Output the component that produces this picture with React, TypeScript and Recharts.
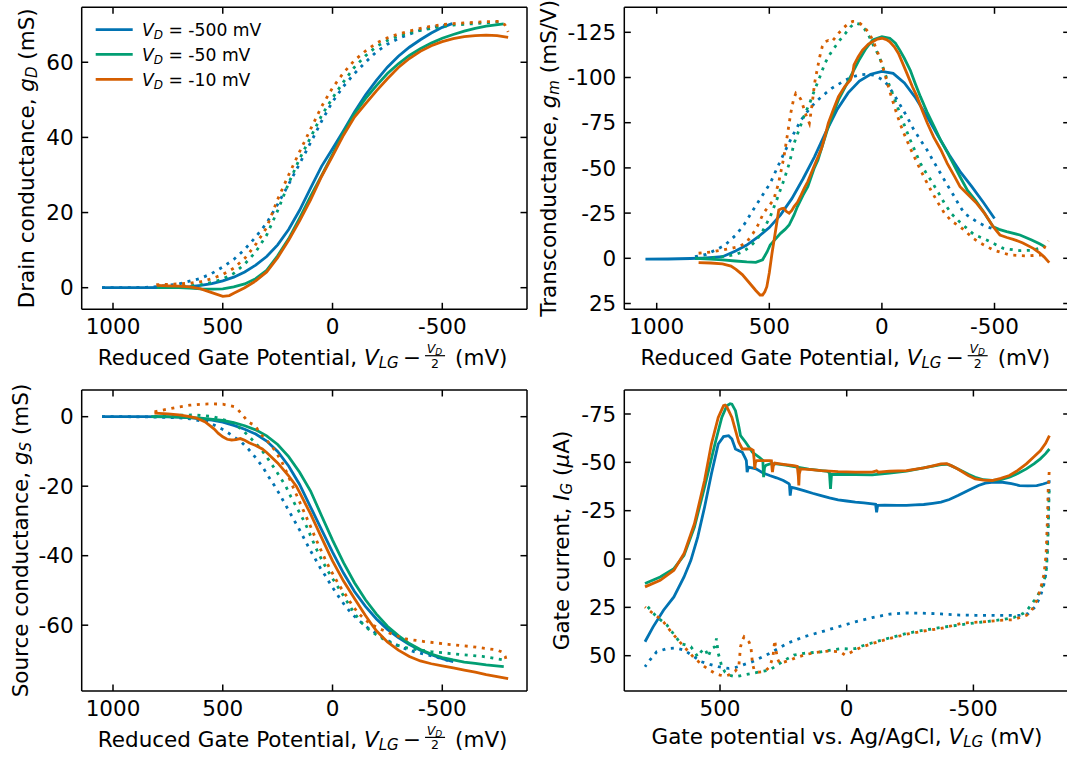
import React from 'react';
import { LineChart, Line, XAxis, YAxis, Legend, Label } from 'recharts';

type P = [number, number][];

const FONT = '"DejaVu Sans", "Liberation Sans", sans-serif';
const BLUE = '#0173B2';
const GREEN = '#029E73';
const ORANGE = '#D55E00';
const COLORS = [BLUE, GREEN, ORANGE];
const LEGEND_VALUES = ['-500', '-50', '-10'];

const X_TICKS_REDUCED = [1000, 500, 0, -500];
const X_TICKS_GATE = [500, 0, -500];
const Y_TICKS_GD = [0, 20, 40, 60];
const Y_TICKS_GM = [25, 0, -25, -50, -75, -100, -125];
const Y_TICKS_GS = [0, -20, -40, -60];
const Y_TICKS_IG = [50, 25, 0, -25, -50, -75];

// ---------- Drain conductance g_D (mS) ----------
const gD_blue_fwd: P = [[1050,0],[950,0],[850,0],[750,0.05],[700,0.1],[650,0.3],[600,0.6],[550,1.1],[500,1.8],[450,2.8],[400,4.2],[350,6],[300,8.3],[250,11.4],[200,15.5],[150,20.6],[100,26.5],[50,32.3],[0,37],[-50,41.8],[-100,46.8],[-150,51.3],[-200,55.2],[-250,58.7],[-300,61.6],[-350,64],[-400,66],[-450,67.8],[-500,69.3],[-545,70.3]];
const gD_blue_rev: P = [[1050,0],[950,0],[850,0.1],[800,0.3],[700,1.0],[600,2.5],[550,3.8],[500,5.5],[450,7.5],[400,10.2],[350,13.5],[300,17.2],[250,22.2],[200,27.5],[150,33],[100,38.6],[50,44.3],[0,49.5],[-50,53.6],[-100,57],[-150,60],[-200,62.8],[-250,64.8],[-300,66.3],[-350,67.5],[-400,68.5],[-450,69.2],[-500,69.8],[-545,70.2]];
const gD_green_fwd: P = [[800,0],[700,0],[650,-0.1],[600,-0.3],[550,-0.4],[500,-0.3],[450,0.2],[400,1.0],[350,2.4],[300,4.6],[250,8.5],[200,13],[150,18.5],[100,24.3],[50,29.8],[0,35.5],[-50,41.3],[-100,46.3],[-150,50.3],[-200,53.8],[-250,57],[-300,59.6],[-350,61.8],[-400,63.6],[-450,65.1],[-500,66.4],[-550,67.4],[-600,68.3],[-650,69],[-700,69.6],[-780,70.2]];
const gD_green_rev: P = [[800,0],[700,0.2],[600,0.8],[550,1.4],[500,2.3],[450,3.8],[400,6.3],[350,9.5],[300,14],[250,20.5],[200,27.8],[150,34.3],[100,40],[50,45.8],[0,50.5],[-50,54.8],[-100,58.7],[-150,61.7],[-200,64.2],[-250,65.8],[-300,67],[-350,67.8],[-400,68.5],[-450,69],[-500,69.5],[-550,69.9],[-600,70.1],[-700,70.5],[-780,70.8]];
const gD_orange_fwd: P = [[800,0.6],[750,0.5],[700,0.4],[650,0.2],[600,-0.3],[550,-1.3],[500,-2.3],[470,-2.1],[450,-1.5],[400,0],[350,1.8],[300,4.2],[250,8],[200,12.6],[150,17.8],[100,23.4],[50,29.6],[0,35],[-50,40.6],[-100,45.4],[-150,48.9],[-200,52.4],[-250,55.6],[-300,58.6],[-350,61],[-400,62.9],[-450,64.4],[-500,65.5],[-550,66.3],[-600,66.8],[-650,67.1],[-700,67.2],[-750,67.1],[-800,66.6]];
const gD_orange_rev: P = [[803,0.8],[750,0.9],[700,1.0],[650,1.2],[600,1.6],[550,2.4],[500,3.5],[450,5.2],[400,7.8],[350,11.5],[300,16],[250,23.5],[200,30],[150,36.2],[100,42.2],[50,48.2],[0,53.2],[-50,57.2],[-100,60.5],[-150,63],[-200,65.1],[-250,66.5],[-300,67.5],[-350,68.3],[-400,69],[-450,69.6],[-500,70],[-550,70.3],[-600,70.5],[-700,70.8],[-760,70.9],[-785,70],[-800,68.1]];

// ---------- Transconductance g_m (mS/V) ----------
const gm_blue_fwd: P = [[1050,0.5],[950,0.4],[850,0.1],[780,-0.2],[708,-0.9],[650,-4],[600,-7.3],[550,-11.8],[500,-17],[450,-24],[400,-33],[350,-44],[300,-56],[250,-69.5],[200,-82],[150,-91.5],[100,-98],[50,-101.8],[0,-103.4],[-50,-102.3],[-100,-97],[-150,-88.7],[-200,-78.5],[-250,-67.5],[-300,-57],[-350,-47.5],[-400,-39.5],[-450,-31],[-500,-22]];
const gm_blue_rev: P = [[830,-0.9],[780,-2.2],[739,-4.6],[700,-7],[648,-12.9],[610,-19],[572,-26.7],[535,-34],[496,-41.5],[465,-50],[435,-58],[400,-67],[359,-76.5],[320,-83],[284,-87.6],[250,-91.3],[223,-94],[190,-96.5],[162,-98.6],[130,-100.3],[102,-101.4],[70,-101.8],[41,-101.4],[20,-100.3],[-5,-98.6],[-25,-96],[-50,-91.3],[-80,-85],[-111,-78.4],[-140,-71.5],[-171,-65.4],[-200,-60],[-232,-53],[-260,-47],[-293,-40],[-320,-34.5],[-345,-29],[-366,-24.9],[-399,-22.1],[-428,-19.7],[-465,-17.5],[-490,-16.5]];
const gm_green_fwd: P = [[830,0],[760,0.5],[708,0.9],[650,1.5],[600,2],[560,2.2],[530,0.8],[510,-3.5],[496,-7.4],[470,-11],[450,-13.8],[430,-16],[412,-18.4],[390,-24],[375,-28.6],[350,-35],[329,-39.6],[300,-50],[284,-54.4],[260,-64],[238,-72.8],[215,-80.5],[193,-87.6],[160,-95.5],[132,-102.3],[100,-110],[71,-116],[41,-120.8],[0,-122.6],[-35,-121.7],[-60,-119],[-80,-115],[-100,-110.5],[-126,-104],[-150,-96],[-171,-89.4],[-200,-81],[-232,-72.8],[-260,-65.5],[-293,-58],[-320,-51.5],[-347,-45.1],[-380,-37.5],[-414,-32.3],[-450,-26],[-475,-21.2],[-494,-17.5],[-520,-16],[-554,-14.8],[-613,-12.9],[-665,-10.1],[-700,-8],[-724,-6.4]];
const gm_green_rev: P = [[830,0],[760,-0.3],[708,-0.9],[650,-2],[617,-3.7],[590,-6],[557,-10],[530,-15],[496,-23],[465,-33],[435,-43.3],[410,-53],[390,-63.6],[365,-72],[344,-79.3],[320,-86],[299,-93],[275,-100.5],[253,-107.9],[230,-113],[208,-117],[185,-121],[162,-124.4],[140,-128],[120,-130],[100,-129.5],[78,-127],[56,-122.6],[35,-117],[11,-111.5],[-10,-103.5],[-35,-95],[-58,-87.5],[-80,-80.2],[-103,-72.5],[-126,-65.4],[-150,-58.5],[-171,-52.5],[-195,-47.5],[-217,-43.3],[-250,-36.5],[-278,-30.4],[-310,-24.5],[-347,-19.9],[-406,-13.4],[-465,-10.1],[-539,-5.5],[-613,-4.2],[-660,-4.4],[-717,-6]];
const gm_orange_fwd: P = [[814,2.4],[760,2.6],[708,3.1],[670,4.3],[648,6.1],[620,9],[587,13.8],[560,17.8],[541,20.3],[530,20.3],[520,18.5],[511,15.7],[500,8],[488,-2.8],[470,-17],[458,-26.7],[445,-27.5],[435,-27.7],[425,-26],[412,-24.9],[400,-26.5],[390,-28.6],[375,-31],[359,-35],[344,-39],[329,-42.4],[314,-47],[299,-51.6],[284,-56],[268,-60.8],[253,-67.5],[238,-74.7],[215,-82.5],[193,-89.4],[165,-95],[140,-98.6],[130,-102],[124,-107],[105,-111.5],[86,-115.2],[60,-118.5],[41,-119.8],[20,-121.3],[0,-121.7],[-20,-121],[-35,-119.8],[-55,-117],[-73,-113.4],[-90,-108.5],[-111,-102.3],[-135,-95],[-156,-89.4],[-180,-81.5],[-202,-74.7],[-230,-67],[-262,-59.9],[-290,-52.5],[-323,-45.2],[-347,-39.6],[-384,-35],[-421,-30.4],[-455,-25],[-494,-17.5],[-524,-12.9],[-555,-11.5],[-583,-10.5],[-626,-8.5],[-672,-5.5],[-700,-3],[-720,-0.8],[-743,2.4]];
const gm_orange_rev: P = [[814,-2.8],[760,-3.5],[708,-4.6],[660,-5.8],[632,-6.5],[600,-9],[572,-13.8],[550,-18.5],[526,-24.9],[505,-28.5],[481,-32.3],[460,-41],[445,-50],[435,-56.2],[420,-68],[405,-80.2],[392,-88],[382,-91.3],[370,-90],[359,-87.6],[347,-83],[337,-79.3],[322,-74.7],[310,-85],[299,-96.8],[288,-104],[276,-111.5],[265,-117],[253,-119.8],[238,-120.5],[223,-119.8],[208,-122],[193,-124.4],[170,-127.5],[147,-130],[130,-131],[117,-131],[98,-130],[79,-128],[60,-125],[41,-120.8],[22,-115],[3,-108.8],[-15,-101],[-35,-92.2],[-58,-83],[-80,-74.7],[-103,-67.5],[-126,-60.8],[-150,-54.5],[-171,-48.9],[-195,-43],[-217,-37.8],[-250,-30.5],[-278,-24.9],[-310,-20.5],[-347,-17.5],[-406,-11],[-435,-8.6],[-494,-4.6],[-569,-1.8],[-643,-1.3],[-702,-1.8],[-739,-9.7]];

// ---------- Source conductance g_S (mS) ----------
const gS_blue_fwd: P = [[1050,0],[950,0],[850,0],[750,-0.05],[700,-0.1],[650,-0.3],[600,-0.6],[550,-1],[500,-1.6],[450,-2.5],[400,-3.6],[350,-5],[300,-7],[250,-10],[200,-14.2],[150,-19.5],[100,-26],[50,-32.5],[0,-39],[-50,-45],[-100,-50.3],[-150,-54.6],[-200,-58.2],[-250,-61.2],[-300,-63.6],[-350,-65.6],[-400,-67.2],[-450,-68.5],[-500,-69.6],[-550,-70.5]];
const gS_blue_rev: P = [[1050,0],[950,0],[850,-0.05],[750,-0.2],[700,-0.3],[650,-0.6],[600,-1.2],[575,-1.4],[540,-2.4],[496,-3.8],[460,-5.3],[417,-7.2],[385,-9.2],[354,-11.5],[320,-14.3],[291,-17.3],[265,-19.8],[244,-22],[220,-24.7],[197,-27.3],[175,-29.8],[150,-32.6],[125,-35.6],[102,-38.4],[80,-40.8],[55,-43.6],[30,-46],[8,-48.4],[-25,-51.5],[-55,-54.2],[-85,-56.5],[-118,-58.5],[-155,-60.5],[-197,-62.3],[-235,-63.8],[-275,-65.2],[-320,-66.5],[-370,-67.6],[-420,-68.4],[-464,-69],[-505,-69.8],[-543,-70.5]];
const gS_green_fwd: P = [[826,0],[750,0],[700,-0.1],[600,-0.4],[500,-1.1],[450,-1.7],[400,-2.6],[350,-3.8],[300,-5.5],[250,-8],[200,-11.5],[150,-16],[100,-21.4],[50,-28.5],[0,-35.5],[-50,-42],[-100,-47.8],[-150,-52.7],[-200,-56.8],[-250,-60.3],[-300,-63],[-350,-65.3],[-400,-67],[-450,-68.3],[-500,-69.3],[-550,-70],[-600,-70.6],[-650,-71],[-700,-71.4],[-780,-71.9]];
const gS_green_rev: P = [[811,0],[750,0.3],[700,0.4],[637,0.5],[590,0.3],[543,0],[500,-0.8],[449,-1.9],[420,-3.4],[386,-5.3],[350,-7.7],[323,-9.6],[290,-12.5],[260,-15.3],[235,-17.8],[212,-20.1],[190,-23],[165,-25.9],[140,-28.8],[118,-31.6],[95,-35],[71,-38.4],[48,-41.3],[24,-44.1],[0,-46.6],[-24,-48.9],[-48,-51.3],[-71,-53.7],[-100,-56.6],[-134,-59.4],[-170,-61.5],[-212,-63.3],[-250,-64.6],[-291,-65.7],[-330,-66.4],[-370,-66.9],[-449,-67.6],[-559,-68.3],[-684,-69],[-779,-70]];
const gS_orange_fwd: P = [[811,1],[750,0.8],[700,0.5],[650,0],[620,-0.4],[580,-1.5],[560,-2.5],[540,-3.5],[520,-4.8],[500,-5.8],[480,-6.5],[460,-6.7],[440,-6.6],[420,-6.3],[400,-6.8],[380,-7.5],[350,-8.3],[320,-9.3],[300,-10.3],[250,-13.3],[200,-17],[165,-20],[150,-21.8],[100,-28],[50,-34.8],[0,-41.5],[-50,-47.3],[-100,-52.3],[-150,-57.2],[-181,-60],[-200,-61.6],[-250,-64.8],[-300,-67.2],[-350,-69],[-400,-70.3],[-450,-71.1],[-500,-71.7],[-550,-72.3],[-600,-72.9],[-650,-73.5],[-700,-74.2],[-750,-74.8],[-800,-75.4]];
const gS_orange_rev: P = [[811,1.4],[750,2.2],[700,2.8],[650,3.3],[600,3.6],[550,3.7],[500,3.6],[470,3.2],[449,2.9],[430,2],[417,1],[400,-0.3],[386,-1.4],[370,-2],[354,-2.4],[340,-3.8],[323,-5.3],[300,-6.8],[275,-8.6],[250,-11],[228,-13.4],[200,-17.3],[181,-20.1],[150,-24.5],[134,-26.8],[100,-31.6],[87,-33.6],[60,-37.4],[39,-40.3],[10,-44],[-8,-46],[-30,-48.5],[-55,-50.8],[-85,-53.8],[-118,-56.6],[-150,-58.5],[-181,-59.9],[-220,-61.2],[-260,-62.3],[-300,-63.2],[-338,-64],[-417,-64.7],[-527,-65.5],[-637,-66.2],[-748,-67.1],[-775,-67.8],[-787,-69],[-795,-71]];

// ---------- Gate current I_G (uA) vs V_LG ----------
const iG_blue_fwd: P = [[796,42.8],[764,35.1],[723,26.5],[682,19.6],[642,9.3],[615,0.7],[588,-11.3],[561,-26.8],[534,-44],[507,-59.5],[486,-63.3],[466,-63.8],[453,-62.1],[439,-56.9],[425,-56],[412,-55.2],[400,-52],[396,-50.9],[393,-44.9],[388,-47.5],[370,-47],[358,-46.6],[330,-44.5],[304,-43.2],[277,-42],[250,-40.6],[229,-39],[226,-38.5],[223,-32.8],[219,-37.1],[200,-36.5],[169,-35.4],[135,-34],[101,-32.8],[68,-31.6],[34,-30.6],[0,-30],[-34,-29.4],[-68,-29],[-101,-28.5],[-114,-28.3],[-118,-24.2],[-122,-27.7],[-150,-27.8],[-200,-27.7],[-236,-27.7],[-270,-28],[-304,-28.2],[-340,-28.8],[-372,-29.4],[-405,-30.8],[-439,-32.8],[-465,-34.5],[-493,-36.3],[-520,-38],[-547,-39.2],[-580,-39.8],[-615,-39.7],[-650,-39],[-682,-38],[-715,-37.8],[-750,-38],[-775,-38.8],[-797,-39.7]];
const iG_blue_rev: P = [[-799,-40.7],[-796,-23.5],[-792,-6.2],[-786,7.6],[-776,14.5],[-763,19.7],[-743,24.8],[-717,28.2],[-684,29.1],[-642,29.2],[-579,29.1],[-507,29.1],[-447,29],[-372,28.4],[-300,28],[-236,27.9],[-169,28.5],[-101,30.3],[-34,32.5],[34,35.1],[101,37.7],[169,40.2],[236,43.7],[304,48.8],[372,53.1],[439,56.1],[466,56.6],[507,55.7],[540,54.5],[574,53.1],[608,50],[642,47.1],[675,46],[709,46.3],[750,48],[777,52.3],[796,55.7]];
const iG_green_fwd: P = [[796,12.7],[736,9.3],[682,5],[642,-1.9],[601,-16.5],[561,-37.1],[520,-59.5],[493,-73.2],[473,-79.3],[460,-80.3],[453,-80.1],[439,-76.7],[425,-68],[419,-63.8],[399,-60.4],[372,-55.2],[345,-52.6],[331,-51],[328,-42.3],[324,-47.5],[318,-48.5],[300,-49.3],[277,-49.2],[240,-48.5],[196,-47.5],[150,-46.5],[100,-45.7],[75,-45.3],[68,-44.5],[64,-36.3],[60,-43.7],[54,-43.7],[0,-43.7],[-34,-43.7],[-101,-43.5],[-169,-44.4],[-236,-45.4],[-304,-47.1],[-340,-48],[-372,-48.8],[-395,-49],[-412,-48.3],[-435,-46.8],[-453,-45.7],[-480,-43.8],[-507,-42.3],[-540,-41],[-574,-40.6],[-608,-41],[-642,-42.3],[-675,-44.2],[-709,-46.6],[-740,-49.3],[-764,-51.8],[-785,-54.5],[-800,-56.9]];
const iG_green_rev: P = [[-799,-35.4],[-796,-20],[-792,-2.8],[-787,6.7],[-778,12],[-764,16.2],[-750,20],[-736,22.2],[-715,26],[-696,28.2],[-660,30.2],[-615,31.3],[-560,32.2],[-507,33],[-440,34.2],[-372,35.4],[-300,36.9],[-236,38.5],[-169,40.8],[-101,43.3],[-60,45],[-34,46.3],[-5,46.5],[20,46.3],[60,47],[101,48],[169,48.8],[209,49.7],[240,52],[264,54],[304,57.4],[340,58.3],[372,59.1],[405,60],[439,60.9],[466,60],[480,58.5],[493,55.7],[500,52],[507,48.8],[514,41.1],[520,45.4],[534,46.3],[547,50.6],[554,48],[561,46.3],[575,48],[588,50.6],[600,48],[615,45.4],[635,44.5],[655,43.7],[682,39],[709,34.2],[730,32],[750,29.9],[770,27],[796,23]];
const iG_orange_fwd: P = [[796,14.4],[736,11],[682,5.8],[642,-2.8],[601,-18.2],[561,-40.6],[534,-59.5],[507,-73.2],[486,-79.3],[480,-79.6],[473,-78.7],[453,-73.2],[440,-67],[426,-60.4],[412,-56.9],[395,-56.9],[378,-56.9],[369,-56.2],[365,-51],[363,-46.6],[360,-50],[355,-50.9],[330,-50.9],[304,-50.9],[297,-50.8],[294,-46],[293,-44.9],[290,-48],[284,-49.6],[250,-49],[209,-48.3],[195,-47.9],[191,-43],[189,-38],[187,-44],[182,-46.6],[140,-46.2],[101,-45.7],[34,-45.2],[-34,-44.9],[-101,-44.9],[-118,-45.6],[-125,-44.9],[-169,-45.4],[-236,-45.7],[-304,-47.1],[-340,-48.2],[-372,-49.2],[-395,-49.3],[-412,-48.3],[-435,-46.8],[-453,-45.4],[-480,-43.2],[-507,-41.4],[-540,-40.8],[-574,-40.6],[-608,-41.7],[-642,-43.2],[-675,-45.8],[-709,-49.2],[-740,-53],[-764,-56],[-785,-59.8],[-800,-63.8]];
const iG_orange_rev: P = [[-799,-45],[-795,-35.5],[-792,-20],[-787,-2.8],[-779,7.6],[-770,12.7],[-763,16.2],[-750,21.4],[-730,26.5],[-710,29.1],[-657,31.4],[-605,31.7],[-526,32.6],[-460,33.1],[-372,35.9],[-300,37.3],[-236,38.9],[-169,41.1],[-101,43.7],[-60,45.5],[-34,47.1],[-10,48.7],[7,49.7],[20,48.5],[34,47.9],[70,47.6],[101,47.9],[135,48.6],[169,49.7],[200,51],[223,52.3],[250,53.4],[264,54],[272,52],[277,48.8],[284,42],[291,50.6],[304,55.7],[318,57.5],[331,58.3],[345,58.5],[358,58.3],[366,57],[372,54],[378,45.4],[385,43],[392,42],[399,41],[405,40.2],[412,42],[419,45.4],[426,55.7],[440,58],[453,59.1],[466,60],[480,60.5],[500,60],[520,59.1],[540,57.5],[561,55.7],[581,53.5],[601,51.4],[620,48.5],[642,45.4],[662,42.4],[682,39.4],[703,36],[723,32.5],[743,30.2],[764,28.2],[780,26.5],[796,24.8]];

// ---------- rendering ----------
const toPts = (a: P) => a.map(([x, y]) => ({ x, y }));
const FS = 21.5;
const TICK_LEN = 6.5;
const AXIS_STYLE = { stroke: '#000', strokeWidth: 1.5 };

interface SeriesDef { data: P; color: string; dotted: boolean; name: string }

const seriesOf = (b1: P, b2: P, g1: P, g2: P, o1: P, o2: P): SeriesDef[] => [
  { data: b1, color: BLUE, dotted: false, name: 'b-fwd' },
  { data: b2, color: BLUE, dotted: true, name: 'b-rev' },
  { data: g1, color: GREEN, dotted: false, name: 'g-fwd' },
  { data: g2, color: GREEN, dotted: true, name: 'g-rev' },
  { data: o1, color: ORANGE, dotted: false, name: 'o-fwd' },
  { data: o2, color: ORANGE, dotted: true, name: 'o-rev' },
];

const bottomTick = (PB: number) => (props: any) => {
  const { x, payload } = props;
  return (
    <g>
      <line x1={x} x2={x} y1={PB} y2={PB - TICK_LEN} stroke="#000" strokeWidth={1.5} />
      <text x={x} y={PB + 24.7} textAnchor="middle" fontSize={FS} fontFamily={FONT} fill="#000">{String(payload.value)}</text>
    </g>
  );
};
const topTick = (PT: number) => (props: any) => {
  const { x } = props;
  return <line x1={x} x2={x} y1={PT} y2={PT + TICK_LEN} stroke="#000" strokeWidth={1.5} />;
};
const leftTick = (PL: number) => (props: any) => {
  const { y, payload } = props;
  return (
    <g>
      <line x1={PL} x2={PL + TICK_LEN} y1={y} y2={y} stroke="#000" strokeWidth={1.5} />
      <text x={PL - 8} y={y + 7.7} textAnchor="end" fontSize={FS} fontFamily={FONT} fill="#000">{String(payload.value)}</text>
    </g>
  );
};
const rightTick = (PR: number) => (props: any) => {
  const { y } = props;
  return <line x1={PR} x2={PR - TICK_LEN} y1={y} y2={y} stroke="#000" strokeWidth={1.5} />;
};

function ReducedLabel({ cx, by }: { cx: number; by: number }) {
  return (
    <g fontFamily={FONT} fill="#000">
      <text x={cx + 116.4} y={by} textAnchor="end" fontSize={FS}>
        {'Reduced Gate Potential, '}
        <tspan fontStyle="italic">V</tspan>
        <tspan fontStyle="italic" fontSize={15} dy={3}>LG</tspan>
        <tspan dy={-3} dx={4}>{'\u2212'}</tspan>
      </text>
      <text x={cx + 130.2} y={by - 12.1} textAnchor="middle" fontSize={12.5} fontStyle="italic">
        V<tspan fontSize={9} dy={2}>D</tspan>
      </text>
      <line x1={cx + 120.7} x2={cx + 140.7} y1={by - 9.7} y2={by - 9.7} stroke="#000" strokeWidth={1.2} />
      <text x={cx + 130.7} y={by + 2.3} textAnchor="middle" fontSize={12.5}>2</text>
      <text x={cx + 150.7} y={by} fontSize={FS}>(mV)</text>
    </g>
  );
}

function GateLabel({ cx, by }: { cx: number; by: number }) {
  return (
    <text x={cx} y={by} textAnchor="middle" fontSize={FS} fontFamily={FONT} fill="#000">
      {'Gate potential vs. Ag/AgCl, '}
      <tspan fontStyle="italic">V</tspan>
      <tspan fontStyle="italic" fontSize={15} dy={3}>LG</tspan>
      <tspan dy={-3}>{' (mV)'}</tspan>
    </text>
  );
}

function YLabel({ bx, cy, pre, sym, sub, post }: { bx: number; cy: number; pre: string; sym: string; sub: string; post: React.ReactNode }) {
  return (
    <text x={bx} y={cy} transform={`rotate(-90 ${bx} ${cy})`} textAnchor="middle" fontSize={FS} fontFamily={FONT} fill="#000">
      {pre}
      <tspan fontStyle="italic">{sym}</tspan>
      <tspan fontStyle="italic" fontSize={15} dy={3}>{sub}</tspan>
      <tspan dy={-3}>{' '}</tspan>
      {post}
    </text>
  );
}

function LegendBox() {
  const rows = [29.7, 54.3, 79.3];
  return (
    <svg width={300} height={100} style={{ overflow: 'visible' }}>
      {LEGEND_VALUES.map((v, i) => (
        <g key={v}>
          <line x1={95.7} x2={132.7} y1={rows[i]} y2={rows[i]} stroke={COLORS[i]} strokeWidth={2.8} />
          <text x={142} y={rows[i] + 6.2} fontSize={17.2} fontFamily={FONT} fill="#000">
            <tspan fontStyle="italic">V</tspan>
            <tspan fontStyle="italic" fontSize={12} dy={3}>D</tspan>
            <tspan dy={-3}>{` = ${v} mV`}</tspan>
          </text>
        </g>
      ))}
    </svg>
  );
}

interface PanelProps {
  left: number; top: number; width: number; height: number;
  PL: number; PT: number; PR: number; PB: number;
  xDomain: [number, number]; yDomain: [number, number]; yReversed: boolean;
  xTicks: number[]; yTicks: number[];
  series: SeriesDef[];
  xLabel: React.ReactNode; yLabel: React.ReactNode;
  legend?: boolean;
}

function Panel(p: PanelProps) {
  // mirror axes (top/right) need a non-zero size to be drawn: 1px each
  return (
    <div style={{ position: 'absolute', left: p.left, top: p.top, width: p.width, height: p.height }}>
      <LineChart width={p.width} height={p.height} margin={{ top: p.PT - 1, left: 0, right: p.width - p.PR - 1, bottom: 0 }}>
        <XAxis xAxisId="b" dataKey="x" type="number" scale="linear" domain={p.xDomain} reversed allowDataOverflow
          ticks={p.xTicks} interval={0} height={p.height - p.PB} orientation="bottom"
          axisLine={AXIS_STYLE} tickLine={false} tick={bottomTick(p.PB)}>
          <Label content={() => p.xLabel} />
        </XAxis>
        <XAxis xAxisId="t" dataKey="x" type="number" scale="linear" domain={p.xDomain} reversed allowDataOverflow
          ticks={p.xTicks} interval={0} height={1} orientation="top"
          axisLine={AXIS_STYLE} tickLine={false} tick={topTick(p.PT)} />
        <YAxis yAxisId="l" type="number" scale="linear" domain={p.yDomain} reversed={p.yReversed} allowDataOverflow
          ticks={p.yTicks} interval={0} width={p.PL} orientation="left"
          axisLine={AXIS_STYLE} tickLine={false} tick={leftTick(p.PL)}>
          <Label content={() => p.yLabel} />
        </YAxis>
        <YAxis yAxisId="r" type="number" scale="linear" domain={p.yDomain} reversed={p.yReversed} allowDataOverflow
          ticks={p.yTicks} interval={0} width={1} orientation="right"
          axisLine={AXIS_STYLE} tickLine={false} tick={rightTick(p.PR)} />
        {p.series.map((s) => (
          <Line key={s.name} xAxisId="b" yAxisId="l" data={toPts(s.data)} dataKey="y" type="linear"
            stroke={s.color} strokeWidth={2.8} strokeDasharray={s.dotted ? '3 5.6' : undefined}
            dot={false} activeDot={false} isAnimationActive={false} legendType="line" />
        ))}
        {p.legend && (
          <Legend layout="vertical" align="center" verticalAlign="middle"
            wrapperStyle={{ position: 'absolute', left: 0, top: 0, width: 300, height: 100 }}
            content={() => <LegendBox />} />
        )}
      </LineChart>
    </div>
  );
}

export default function App() {
  return (
    <div style={{ position: 'absolute', left: 0, top: 0, width: 1067, height: 766, overflow: 'hidden', background: '#fff' }}>
      <Panel left={0} top={0} width={540} height={380} PL={81.7} PT={7.3} PR={527} PB={309.3}
        xDomain={[-885.9, 1142.6]} yDomain={[-5.75, 74.63]} yReversed={false}
        xTicks={X_TICKS_REDUCED} yTicks={Y_TICKS_GD}
        series={seriesOf(gD_blue_fwd, gD_blue_rev, gD_green_fwd, gD_green_rev, gD_orange_fwd, gD_orange_rev)}
        xLabel={<ReducedLabel cx={304.35} by={365.4} />}
        yLabel={<YLabel bx={34} cy={158.3} pre="Drain conductance, " sym="g" sub="D" post="(mS)" />}
        legend />
      <Panel left={530} top={0} width={560} height={380} PL={94.3} PT={7.3} PR={539.7} PB={309.3}
        xDomain={[-833.9, 1143.9]} yDomain={[-138.83, 28.21]} yReversed
        xTicks={X_TICKS_REDUCED} yTicks={Y_TICKS_GM}
        series={seriesOf(gm_blue_fwd, gm_blue_rev, gm_green_fwd, gm_green_rev, gm_orange_fwd, gm_orange_rev)}
        xLabel={<ReducedLabel cx={317} by={365.4} />}
        yLabel={<YLabel bx={25.7} cy={158.3} pre="Transconductance, " sym="g" sub="m" post="(mS/V)" />} />
      <Panel left={0} top={380} width={540} height={386} PL={81.7} PT={10} PR={527} PB={311}
        xDomain={[-885.9, 1142.6]} yDomain={[-78.94, 7.68]} yReversed={false}
        xTicks={X_TICKS_REDUCED} yTicks={Y_TICKS_GS}
        series={seriesOf(gS_blue_fwd, gS_blue_rev, gS_green_fwd, gS_green_rev, gS_orange_fwd, gS_orange_rev)}
        xLabel={<ReducedLabel cx={304.35} by={367.1} />}
        yLabel={<YLabel bx={27.5} cy={160.5} pre="Source conductance, " sym="g" sub="S" post="(mS)" />} />
      <Panel left={530} top={380} width={560} height={386} PL={94.3} PT={10} PR={539.7} PB={311}
        xDomain={[-880.0, 877.7]} yDomain={[-87.41, 68.26]} yReversed
        xTicks={X_TICKS_GATE} yTicks={Y_TICKS_IG}
        series={seriesOf(iG_blue_fwd, iG_blue_rev, iG_green_fwd, iG_green_rev, iG_orange_fwd, iG_orange_rev)}
        xLabel={<GateLabel cx={317} by={364} />}
        yLabel={<YLabel bx={38.5} cy={160.5} pre="Gate current, " sym="I" sub="G"
          post={<>(<tspan fontStyle="italic">{'\u03bc'}</tspan>A)</>} />} />
    </div>
  );
}
